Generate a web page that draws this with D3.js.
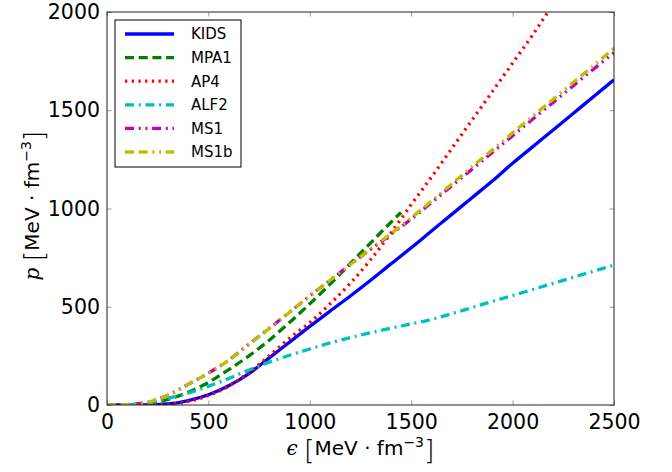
<!DOCTYPE html>
<html>
<head>
<meta charset="utf-8">
<script src="https://cdn.jsdelivr.net/npm/d3@7"></script>
<style>
  body { margin: 0; background: #fff; }
  svg { display: block; font-family: "DejaVu Sans", sans-serif; }
</style>
</head>
<body>
<div id="chart"></div>
<script>
// energy density grid [MeV fm^-3]
const eps = [0, 100, 200, 300, 400, 500, 600, 700, 800, 900, 1000, 1100, 1200,
  1300, 1400, 1500, 1600, 1700, 1800, 1900, 2000, 2100, 2200, 2300, 2400, 2500];
const epsMPA1 = [0, 100, 200, 300, 400, 500, 600, 700, 800, 900, 1000, 1100, 1200, 1300, 1400, 1450];
const epsAP4 = [0, 100, 200, 300, 400, 500, 600, 700, 800, 900, 1000, 1100, 1200,
  1300, 1400, 1500, 1600, 1700, 1800, 1900, 2000, 2100, 2200, 2300];

// pressure [MeV fm^-3]
const pKIDS = [0, 0, 1, 5, 22, 52, 98, 160, 240, 320, 400, 478, 555,
  635, 718, 800, 885, 970, 1055, 1140, 1230, 1315, 1400, 1485, 1570, 1655];
const pMPA1 = [0, 0, 5, 28, 65, 115, 180, 250, 330, 420, 515, 615, 720, 825, 930, 980];
const pAP4 = [0, 0, 0, 3, 18, 48, 95, 165, 250, 340, 420, 515, 620,
  740, 875, 1020, 1160, 1305, 1450, 1595, 1740, 1885, 2040, 2190];
const pALF2 = [0, 1, 10, 34, 60, 95, 135, 178, 218, 253, 285, 316, 343,
  368, 391, 413, 435, 465, 496, 527, 557, 588, 619, 650, 681, 712];
const pMS1 = [0, 2, 14, 50, 105, 162, 228, 310, 390, 472, 555, 635, 715,
  792, 868, 946, 1030, 1115, 1200, 1285, 1370, 1455, 1540, 1625, 1710, 1792];
const pMS1b = [0, 2, 14, 50, 105, 162, 228, 310, 390, 472, 555, 635, 715,
  795, 872, 952, 1038, 1125, 1212, 1298, 1385, 1470, 1556, 1642, 1728, 1815];

const names = ['KIDS', 'MPA1', 'AP4', 'ALF2', 'MS1', 'MS1b'];
const xTicks = [0, 500, 1000, 1500, 2000, 2500];
const yTicks = [0, 500, 1000, 1500, 2000];

const series = [
  { name: 'KIDS', x: eps, y: pKIDS, color: '#0000ff', dash: null },
  { name: 'MPA1', x: epsMPA1, y: pMPA1, color: '#008000', dash: '9,4.7' },
  { name: 'AP4', x: epsAP4, y: pAP4, color: '#ff0000', dash: '2.3,4.4' },
  { name: 'ALF2', x: eps, y: pALF2, color: '#00bfbf', dash: '9,4.7,2,4.7' },
  { name: 'MS1', x: eps, y: pMS1, color: '#bf00bf', dash: '9,4.7,2,4.7,2,4.7' },
  { name: 'MS1b', x: eps, y: pMS1b, color: '#bfbf00', dash: '9,4.7,9,4.7,2,4.7,2,4.7' }
];

const width = 672, height = 472;
const margin = { top: 12, right: 58, bottom: 67, left: 107 };
const w = width - margin.left - margin.right;
const h = height - margin.top - margin.bottom;

const svg = d3.select('#chart').append('svg')
  .attr('width', width)
  .attr('height', height);

const g = svg.append('g')
  .attr('transform', `translate(${margin.left},${margin.top})`);

const x = d3.scaleLinear().domain([0, 2500]).range([0, w]);
const y = d3.scaleLinear().domain([0, 2000]).range([h, 0]);

g.append('clipPath').attr('id', 'clip')
  .append('rect').attr('width', w).attr('height', h);

// curves
const line = d3.line()
  .x(d => x(d[0]))
  .y(d => y(d[1]))
  .curve(d3.curveMonotoneX);

const lines = g.append('g').attr('clip-path', 'url(#clip)');
series.forEach(s => {
  lines.append('path')
    .datum(s.x.map((v, i) => [v, s.y[i]]))
    .attr('fill', 'none')
    .attr('stroke', s.color)
    .attr('stroke-width', 3.3)
    .attr('stroke-dasharray', s.dash)
    .attr('d', line);
});

// axes, ticks inside on all four sides
const tickLen = 4.5;
const fmt = d3.format('d');
const axBottom = g.append('g').attr('transform', `translate(0,${h})`)
  .call(d3.axisBottom(x).tickValues(xTicks).tickFormat(fmt).tickSizeInner(-tickLen).tickSizeOuter(0).tickPadding(9));
const axLeft = g.append('g')
  .call(d3.axisLeft(y).tickValues(yTicks).tickFormat(fmt).tickSizeInner(-tickLen).tickSizeOuter(0).tickPadding(7));
const axTop = g.append('g')
  .call(d3.axisTop(x).tickValues(xTicks).tickSizeInner(-tickLen).tickSizeOuter(0).tickFormat(''));
const axRight = g.append('g').attr('transform', `translate(${w},0)`)
  .call(d3.axisRight(y).tickValues(yTicks).tickSizeInner(-tickLen).tickSizeOuter(0).tickFormat(''));

[axBottom, axLeft, axTop, axRight].forEach(a => {
  a.select('.domain').remove();
  a.selectAll('.tick line').attr('stroke', '#999').attr('stroke-width', 1);
  a.selectAll('.tick text')
    .attr('font-family', '"DejaVu Sans", sans-serif')
    .attr('font-size', 20.5)
    .attr('fill', '#000');
});

g.append('rect')
  .attr('width', w).attr('height', h)
  .attr('fill', 'none')
  .attr('stroke', '#222')
  .attr('stroke-width', 1);

// axis labels
function unitLabel(sel, symbol) {
  sel.append('tspan').attr('font-family', '"DejaVu Serif", serif').attr('font-style', 'italic').text(symbol + ' ');
  sel.append('tspan').attr('font-size', 27).attr('font-weight', 200).attr('dy', 4).text('[');
  sel.append('tspan').attr('dy', -4).text('MeV · fm');
  sel.append('tspan').attr('font-size', 14).attr('dy', -8).text('−3');
  sel.append('tspan').attr('font-size', 27).attr('font-weight', 200).attr('dy', 12).text(']');
}

const xl = svg.append('text')
  .attr('x', margin.left + w / 2)
  .attr('y', 455)
  .attr('text-anchor', 'middle')
  .attr('font-size', 20)
  .attr('fill', '#000');
unitLabel(xl, 'ϵ');

const yl = svg.append('text')
  .attr('transform', `translate(39,${margin.top + h / 2 - 3}) rotate(-90)`)
  .attr('text-anchor', 'middle')
  .attr('font-size', 20)
  .attr('fill', '#000');
unitLabel(yl, 'p');

// legend
const legend = svg.append('g').attr('transform', 'translate(115,20)');
legend.append('rect')
  .attr('width', 126).attr('height', 147)
  .attr('fill', '#fff')
  .attr('stroke', '#000')
  .attr('stroke-width', 1);

const rowY = d3.scalePoint().domain(names).range([14, 132]);
series.forEach(s => {
  const row = legend.append('g').attr('transform', `translate(0,${rowY(s.name)})`);
  row.append('line')
    .attr('x1', 10).attr('x2', 59)
    .attr('stroke', s.color)
    .attr('stroke-width', 3.3)
    .attr('stroke-dasharray', s.dash);
  row.append('text')
    .attr('x', 76)
    .attr('dy', '0.36em')
    .attr('font-size', 15)
    .attr('fill', '#000')
    .text(s.name);
});
</script>
</body>
</html>
